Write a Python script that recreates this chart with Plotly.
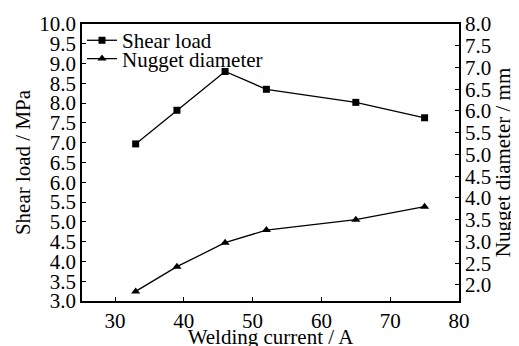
import plotly.graph_objects as go

current = [33, 39, 46, 52, 65, 75]
shear_load = [6.97, 7.82, 8.8, 8.35, 8.02, 7.63]
nugget_diameter = [1.85, 2.42, 2.97, 3.26, 3.5, 3.8]

FONT = "Liberation Serif"
FS = 21
fig = go.Figure()
fig.add_trace(go.Scatter(x=current, y=shear_load, name="Shear load", mode="lines+markers",
                         legend="legend",
                         line=dict(color="black", width=1.3),
                         marker=dict(symbol="square", size=7, color="black")))
fig.add_trace(go.Scatter(x=current, y=nugget_diameter, name="Nugget diameter", mode="lines+markers",
                         yaxis="y2", legend="legend2",
                         line=dict(color="black", width=1.3),
                         marker=dict(symbol="triangle-up", size=8, color="black")))

axis_common = dict(showline=True, linecolor="black", linewidth=1.5, ticks="inside",
                   ticklen=4, tickcolor="black", showgrid=False, zeroline=False,
                   automargin=False,
                   tickfont=dict(family=FONT, size=FS, color="black"))
leg_common = dict(xanchor="left", yanchor="middle", bgcolor="rgba(0,0,0,0)",
                  itemwidth=30, font=dict(family=FONT, size=FS, color="black"))
# page body has an 8px default margin, so the figure is drawn 8px in and down
fig.update_layout(
    width=511, height=341,
    margin=dict(l=74, r=60, t=13, b=48),
    paper_bgcolor="white", plot_bgcolor="white",
    font=dict(family=FONT, size=FS, color="black"),
    showlegend=True,
    legend=dict(x=0.0, y=0.94, **leg_common),
    legend2=dict(x=0.0, y=0.874, **leg_common),
    xaxis=dict(range=[25.2, 80], dtick=10, tick0=0, mirror=True,
               title=dict(text="Welding current / A", font=dict(family=FONT, size=FS)),
               **axis_common),
    yaxis=dict(range=[3, 10], dtick=0.5, tick0=0, tickformat=".1f",
               title=dict(text="Shear load / MPa", font=dict(family=FONT, size=FS), standoff=3),
               **axis_common),
    yaxis2=dict(range=[1.63, 8.0], dtick=0.5, tick0=0, tickformat=".1f", overlaying="y", side="right",
                title=dict(text="Nugget diameter / mm", font=dict(family=FONT, size=FS), standoff=3),
                **axis_common),
)
fig.write_html("out.html")
